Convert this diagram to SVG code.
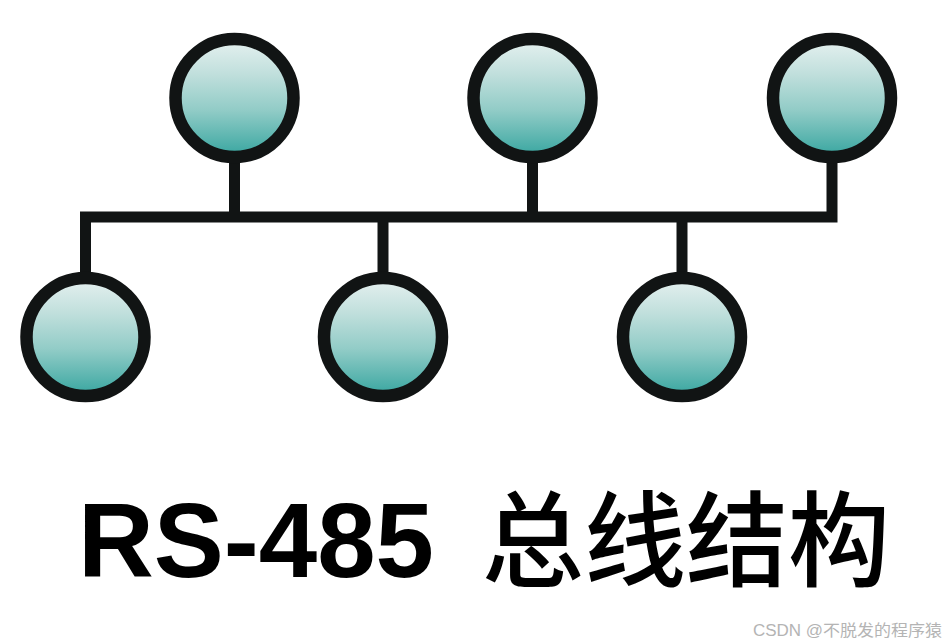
<svg xmlns="http://www.w3.org/2000/svg" width="946" height="644" viewBox="0 0 946 644">
<defs>
<linearGradient id="g" x1="0" y1="0" x2="0" y2="1">
<stop offset="0" stop-color="#e6f1f0"/>
<stop offset="0.3" stop-color="#c0dfdc"/>
<stop offset="0.6" stop-color="#92ccc7"/>
<stop offset="1" stop-color="#36a59f"/>
</linearGradient>
<style>
.node circle{fill:url(#g);stroke:#111414;stroke-width:12.5}
.wire{stroke:#111414;stroke-width:11;fill:none;stroke-linecap:butt;stroke-linejoin:miter}
.title{font-family:"Liberation Sans",Arial,sans-serif;font-weight:bold;font-size:105px;fill:#000}
.cjk{font-family:"Noto Sans CJK SC","Noto Sans",sans-serif;font-weight:500;font-size:104px;fill:#000}
.wm{font-family:"Liberation Sans","Noto Sans CJK SC",sans-serif;font-size:16px;fill:#b4b4b4}
</style>
</defs>
<g id="connectors">
<path class="wire" d="M85.5 272 V217 H832 V160"/>
<path class="wire" d="M234.5 160 V217"/>
<path class="wire" d="M532.5 160 V217"/>
<path class="wire" d="M383 217 V274"/>
<path class="wire" d="M682 217 V274"/>
</g>
<g id="node1" class="node"><circle cx="234.5" cy="98" r="59"/></g>
<g id="node2" class="node"><circle cx="532.5" cy="98" r="59"/></g>
<g id="node3" class="node"><circle cx="832" cy="98" r="59"/></g>
<g id="node4" class="node"><circle cx="85.5" cy="337" r="59"/></g>
<g id="node5" class="node"><circle cx="383" cy="337" r="59"/></g>
<g id="node6" class="node"><circle cx="682" cy="337" r="59"/></g>
<text class="title" x="78" y="577">RS-485</text>
<text class="cjk" x="482" y="579" textLength="408" lengthAdjust="spacingAndGlyphs">总线结构</text>
<text class="wm" x="753" y="636" textLength="189" lengthAdjust="spacingAndGlyphs">CSDN @不脱发的程序猿</text>
</svg>
